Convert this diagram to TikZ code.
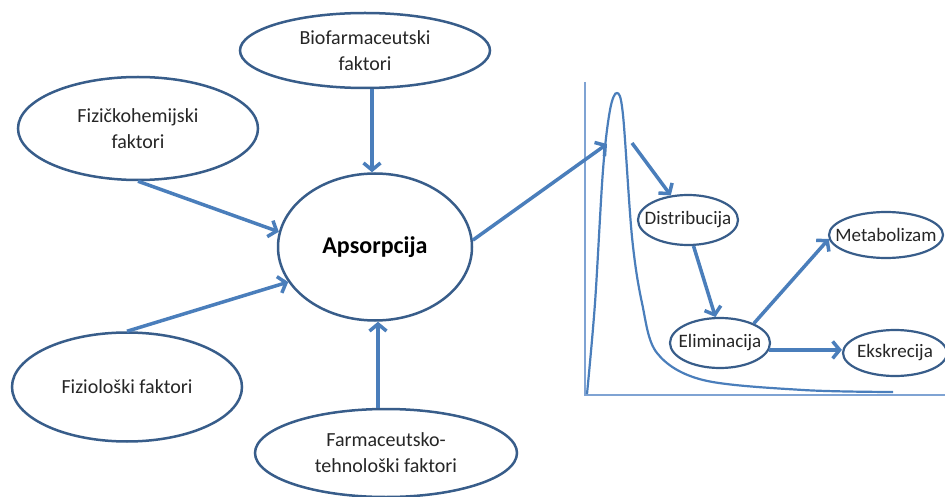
\documentclass[tikz,border=0pt]{standalone}
\usepackage{fontspec}
\setmainfont{Carlito}
\usepackage{tikz}
\usetikzlibrary{arrows.meta, positioning, shapes.geometric}

\definecolor{rub}{HTML}{385D8A}
\definecolor{strelica}{HTML}{4A7EBB}
\definecolor{osa}{HTML}{7FA3D3}
\definecolor{tekst}{HTML}{262626}

\tikzset{
    faktor/.style={ellipse, draw=rub, line width=2.5pt, fill=white, inner sep=0pt,
        align=center, text=tekst, font=\fontsize{20}{26}\selectfont},
    proces/.style={faktor, line width=2.2pt, inner xsep=-22pt, font=\fontsize{19}{23}\selectfont},
    strel/.style={draw=strelica, line width=3.5pt,
        -{Straight Barb[length=7pt, width=17pt]}}
}

\begin{document}
\begin{tikzpicture}[x=1pt, y=-1pt]
        % okvir slike
        \clip (0,0) rectangle (945,497);

        % kriva koncentracije i ose
        \draw[osa, line width=1.2pt] (585,82) -- (585,395) -- (945,395);
        \draw[strelica, line width=2.2pt] plot[smooth, tension=0.55] coordinates {
            (587,394) (595,303) (603,170) (610,110) (617,93) (623,115)
            (632,237) (642,303) (657,353) (703,380) (803,390) (893,392)};
        \coordinate (vrh) at (607,144);
        \coordinate (pad) at (632,143);

        % faktori
        \node[faktor, minimum width=250pt, minimum height=75pt] (bio) at (365,50.5)
            {Biofarmaceutski\\faktori};
        \node[faktor, minimum width=240pt, minimum height=103pt] (fizhem) at (138,128.5)
            {Fizičkohemijski\\faktori};
        \node[faktor, minimum width=230pt, minimum height=109pt] (fiziol) at (127,387)
            {Fiziološki faktori};
        \node[faktor, minimum width=262pt, minimum height=88pt] (farm) at (386,453)
            {Farmaceutsko-\\tehnološki faktori};
        \node[faktor, minimum width=194pt, minimum height=147pt,
            font=\fontsize{24}{28}\selectfont\bfseries, text=black] (aps) at (375,247) {Apsorpcija};

        % procesi
        \node[proces, minimum width=100pt, minimum height=50pt] (dist) at (688,220) {Distribucija};
        \node[proces, minimum width=100pt, minimum height=50pt] (elim) at (720,343) {Eliminacija};
        \node[proces, minimum width=114pt, minimum height=46pt] (metab) at (886,235) {Metabolizam};
        \node[proces, minimum width=104pt, minimum height=46pt] (eks) at (895,353) {Ekskrecija};

        % strelice prema apsorpciji
        \draw[strel] (bio.south -| 372,0) -- (aps.north -| 372,0);
        \draw[strel] (fizhem.south) -- (aps.171);
        \draw[strel] (fiziol.north) -- (aps.202);
        \draw[strel] (farm.north -| 378,0) -- (aps.south -| 378,0);

        % tok posle apsorpcije
        \draw[strel] (aps.4) -- (vrh);
        \draw[strel] (pad) -- (dist.125);
        \draw[strel] (dist.282) -- (elim.100);
        \draw[strel] (elim.30) -- (metab.184);
        \draw[strel] (elim.-8) -- (elim.-8 -| eks.west);
    \end{tikzpicture}
\end{document}
